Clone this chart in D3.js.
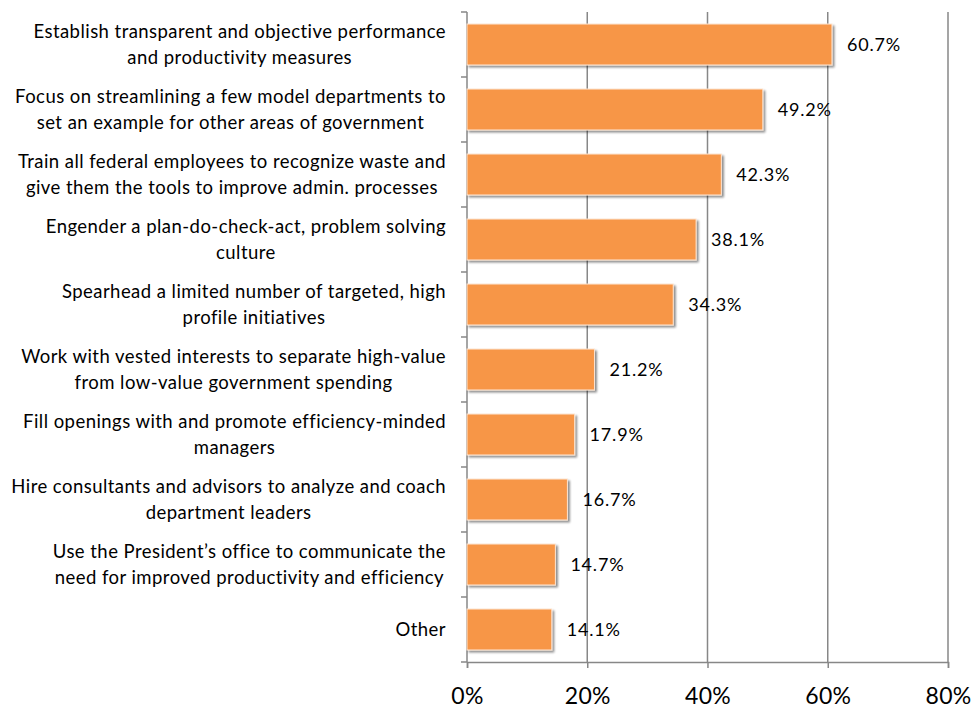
<!DOCTYPE html>
<html>
<head>
<meta charset="utf-8">
<script src="https://cdn.jsdelivr.net/npm/d3@7/dist/d3.min.js"></script>
<style>
  html, body { margin: 0; padding: 0; background: #fff; }
  svg { display: block; }
  text { font-family: Lato, "Open Sans", sans-serif; fill: #000; }
</style>
</head>
<body>
<svg id="chart" width="978" height="713"></svg>
<script>
// Survey responses: measures to improve government efficiency
const categories = [
  ["Establish transparent and objective performance", "and productivity measures"],
  ["Focus on streamlining a few model departments to", "set an example for other areas of government"],
  ["Train all federal employees to recognize waste and", "give them the tools to improve admin. processes"],
  ["Engender a plan-do-check-act, problem solving", "culture"],
  ["Spearhead a limited number of targeted, high", "profile initiatives"],
  ["Work with vested interests to separate high-value", "from low-value government spending"],
  ["Fill openings with and promote efficiency-minded", "managers"],
  ["Hire consultants and advisors to analyze and coach", "department leaders"],
  ["Use the President\u2019s office to communicate the", "need for improved productivity and efficiency"],
  ["Other"]
];
const values = [60.7, 49.2, 42.3, 38.1, 34.3, 21.2, 17.9, 16.7, 14.7, 14.1];
const tickValues = [0, 20, 40, 60, 80];

const svg = d3.select("#chart");
const margin = { left: 467, right: 30, top: 12, bottom: 51 };
const W = 978, H = 713;

const x = d3.scaleLinear().domain([0, 80]).range([margin.left, 948]);
const y = d3.scaleBand().domain(d3.range(categories.length))
  .range([margin.top, H - margin.bottom]).paddingInner(0.37).paddingOuter(0.185);

// drop shadow for bars
const defs = svg.append("defs");
const f = defs.append("filter").attr("id", "shadow")
  .attr("x", "-5%").attr("y", "-20%").attr("width", "115%").attr("height", "150%");
f.append("feGaussianBlur").attr("in", "SourceAlpha").attr("stdDeviation", 1.2).attr("result", "b");
f.append("feOffset").attr("in", "b").attr("dx", 1.5).attr("dy", 1.5).attr("result", "o");
f.append("feComponentTransfer").attr("in", "o").attr("result", "s")
  .append("feFuncA").attr("type", "linear").attr("slope", 0.45);
const m = f.append("feMerge");
m.append("feMergeNode").attr("in", "s");
m.append("feMergeNode").attr("in", "SourceGraphic");

const plotTop = margin.top, plotBottom = H - margin.bottom;

// vertical gridlines
svg.append("g").selectAll("line").data(tickValues.slice(1)).join("line")
  .attr("x1", d => x(d)).attr("x2", d => x(d))
  .attr("y1", plotTop).attr("y2", plotBottom)
  .attr("stroke", "#878787").attr("stroke-width", 1.5);

// bottom axis
const xAxis = svg.append("g").attr("transform", `translate(0,${plotBottom})`)
  .call(d3.axisBottom(x).tickValues(tickValues).tickFormat(d => d + "%").tickSize(6).tickPadding(20));
xAxis.select(".domain").attr("stroke", "#878787").attr("stroke-width", 1.5);
xAxis.selectAll(".tick line").attr("stroke", "#878787").attr("stroke-width", 1.5);
xAxis.selectAll(".tick text").style("font-size", "23px").style("font-family", "Lato, sans-serif")
  .style("letter-spacing", "0.3px").attr("fill", "#000");

// left axis with ticks at category boundaries
const boundaries = d3.range(categories.length + 1).map(i => plotTop + i * (plotBottom - plotTop) / categories.length);
svg.append("line").attr("x1", x(0)).attr("x2", x(0)).attr("y1", plotTop).attr("y2", plotBottom)
  .attr("stroke", "#878787").attr("stroke-width", 1.5);
svg.append("g").selectAll("line").data(boundaries).join("line")
  .attr("x1", x(0) - 6).attr("x2", x(0)).attr("y1", d => d).attr("y2", d => d)
  .attr("stroke", "#878787").attr("stroke-width", 1.5);

// bars
svg.append("g").selectAll("rect").data(values).join("rect")
  .attr("x", x(0)).attr("y", (d, i) => y(i))
  .attr("width", d => x(d) - x(0)).attr("height", y.bandwidth())
  .attr("fill", "#F79646").attr("stroke", "#fde3cf").attr("stroke-width", 1)
  .attr("filter", "url(#shadow)");

// value labels
svg.append("g").selectAll("text").data(values).join("text")
  .attr("x", d => x(d) + 15).attr("y", (d, i) => y(i) + y.bandwidth() / 2)
  .attr("dy", "0.35em").style("font-size", "18px").style("letter-spacing", "0.8px")
  .text(d => d.toFixed(1) + "%");

// category labels: block right-aligned, lines centred within block
const labelRight = 446;
const lineH = 26;
categories.forEach((lines, i) => {
  const cy = y(i) + y.bandwidth() / 2;
  const g = svg.append("g");
  const ts = g.selectAll("text").data(lines).join("text")
    .style("font-size", "18.5px")
    .style("letter-spacing", "0.45px")
    .attr("text-anchor", "middle")
    .attr("dy", "0.35em")
    .attr("y", (d, k) => cy + (k - (lines.length - 1) / 2) * lineH)
    .text(d => d);
  let maxW = 0;
  ts.each(function () { maxW = Math.max(maxW, this.getComputedTextLength()); });
  ts.attr("x", labelRight - maxW / 2);
});
</script>
</body>
</html>
